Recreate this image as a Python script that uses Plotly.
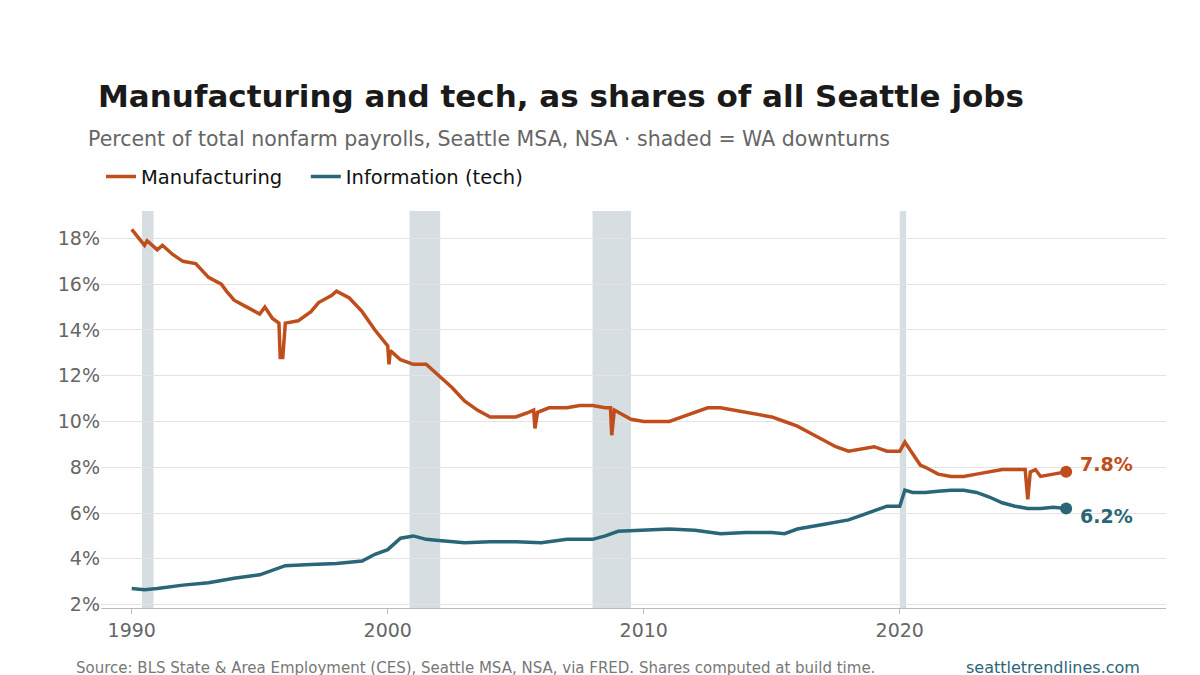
import plotly.graph_objects as go

# decimal years and % shares
mfg_t = [1990.0, 1990.3, 1990.5, 1990.6, 1991.0, 1991.2, 1991.6, 1992.0, 1992.5, 1993.0,
         1993.5, 1993.7, 1994.0, 1994.5, 1995.0, 1995.2, 1995.5, 1995.75, 1995.8, 1995.9,
         1996.0, 1996.5, 1997.0, 1997.3, 1997.8, 1998.0, 1998.5, 1999.0, 1999.5, 2000.0,
         2000.05, 2000.1, 2000.5, 2001.0, 2001.5, 2002.0, 2002.5, 2003.0, 2003.5, 2004.0,
         2004.5, 2005.0, 2005.5, 2005.7, 2005.75, 2005.85, 2006.3, 2007.0, 2007.5, 2008.0,
         2008.5, 2008.7, 2008.75, 2008.85, 2009.5, 2010.0, 2010.5, 2011.0, 2011.5, 2012.0,
         2012.5, 2013.0, 2013.5, 2014.0, 2014.5, 2015.0, 2015.5, 2016.0, 2016.5, 2017.0,
         2017.5, 2018.0, 2018.5, 2019.0, 2019.5, 2020.0, 2020.2, 2020.5, 2020.8, 2021.0,
         2021.5, 2022.0, 2022.5, 2023.0, 2023.5, 2024.0, 2024.5, 2024.9, 2025.0, 2025.1,
         2025.3, 2025.5, 2026.0, 2026.5]
mfg_v = [18.4, 18.0, 17.7, 17.9, 17.5, 17.7, 17.3, 17.0, 16.9, 16.3,
         16.0, 15.7, 15.3, 15.0, 14.7, 15.0, 14.5, 14.3, 12.8, 12.8,
         14.3, 14.4, 14.8, 15.2, 15.5, 15.7, 15.4, 14.8, 14.0, 13.3,
         12.5, 13.1, 12.7, 12.5, 12.5, 12.0, 11.5, 10.9, 10.5, 10.2,
         10.2, 10.2, 10.4, 10.5, 9.7, 10.4, 10.6, 10.6, 10.7, 10.7,
         10.6, 10.6, 9.4, 10.5, 10.1, 10.0, 10.0, 10.0, 10.2, 10.4,
         10.6, 10.6, 10.5, 10.4, 10.3, 10.2, 10.0, 9.8, 9.5, 9.2,
         8.9, 8.7, 8.8, 8.9, 8.7, 8.7, 9.1, 8.6, 8.1, 8.0,
         7.7, 7.6, 7.6, 7.7, 7.8, 7.9, 7.9, 7.9, 6.6, 7.8,
         7.9, 7.6, 7.7, 7.8]

info_t = [1990.0, 1990.5, 1991.0, 1992.0, 1993.0, 1994.0, 1995.0, 1996.0, 1997.0, 1998.0,
          1999.0, 1999.5, 2000.0, 2000.5, 2001.0, 2001.5, 2002.0, 2003.0, 2004.0, 2005.0,
          2006.0, 2007.0, 2008.0, 2008.5, 2009.0, 2010.0, 2011.0, 2012.0, 2013.0, 2014.0,
          2015.0, 2015.5, 2016.0, 2017.0, 2018.0, 2018.5, 2019.0, 2019.5, 2020.0, 2020.2,
          2020.5, 2021.0, 2021.5, 2022.0, 2022.5, 2023.0, 2023.5, 2024.0, 2024.5, 2025.0,
          2025.5, 2026.0, 2026.5]
info_v = [2.7, 2.65, 2.7, 2.85, 2.95, 3.15, 3.3, 3.7, 3.75, 3.8,
          3.9, 4.2, 4.4, 4.9, 5.0, 4.85, 4.8, 4.7, 4.75, 4.75,
          4.7, 4.85, 4.85, 5.0, 5.2, 5.25, 5.3, 5.25, 5.1, 5.15,
          5.15, 5.1, 5.3, 5.5, 5.7, 5.9, 6.1, 6.3, 6.3, 7.0,
          6.9, 6.9, 6.95, 7.0, 7.0, 6.9, 6.7, 6.45, 6.3, 6.2,
          6.2, 6.25, 6.2]

downturns = [(1990.4, 1990.85), (2000.85, 2002.05), (2008.0, 2009.5), (2020.0, 2020.25)]

MFG = "#bf4e1c"
INFO = "#2a6678"
FONT = "DejaVu Sans"

fig = go.Figure()
for x0, x1 in downturns:
    fig.add_vrect(x0=x0, x1=x1, fillcolor="#d6dee1", opacity=1, line_width=0, layer="below")

fig.add_trace(go.Scatter(x=mfg_t, y=mfg_v, mode="lines", name="Manufacturing   ",
                         line=dict(color=MFG, width=3.5)))
fig.add_trace(go.Scatter(x=info_t, y=info_v, mode="lines", name="Information (tech)",
                         line=dict(color=INFO, width=3.5)))
for t, v, c in [(mfg_t[-1], mfg_v[-1], MFG), (info_t[-1], info_v[-1], INFO)]:
    fig.add_trace(go.Scatter(x=[t], y=[v], mode="markers", showlegend=False,
                             marker=dict(color=c, size=12)))
fig.add_annotation(x=mfg_t[-1], y=mfg_v[-1], text=f"<b>{mfg_v[-1]:.1f}%</b>", showarrow=False,
                   xanchor="left", xshift=12, yshift=8, font=dict(color=MFG, size=19, family=FONT))
fig.add_annotation(x=info_t[-1], y=info_v[-1], text=f"<b>{info_v[-1]:.1f}%</b>", showarrow=False,
                   xanchor="left", xshift=12, yshift=-8, font=dict(color=INFO, size=19, family=FONT))

fig.add_annotation(xref="paper", yref="paper", x=-0.014, y=1.181, xanchor="left", yanchor="middle",
                   text="Percent of total nonfarm payrolls, Seattle MSA, NSA · shaded = WA downturns",
                   showarrow=False, font=dict(size=20.5, color="#666", family=FONT))
fig.add_annotation(xref="paper", yref="paper", x=-0.025, y=-0.151, xanchor="left", yanchor="middle",
                   text="Source: BLS State & Area Employment (CES), Seattle MSA, NSA, via FRED. Shares computed at build time.",
                   showarrow=False, font=dict(size=15, color="#777", family=FONT))
fig.add_annotation(xref="paper", yref="paper", x=0.977, y=-0.151, xanchor="right", yanchor="middle",
                   text="seattletrendlines.com", showarrow=False,
                   font=dict(size=16, color=INFO, family=FONT))

fig.update_layout(
    width=1200, height=675, plot_bgcolor="white", paper_bgcolor="white",
    font=dict(family=FONT, color="#666"),
    margin=dict(l=93, r=42, t=203, b=75, autoexpand=False),
    title=dict(text="<b>Manufacturing and tech, as shares of all Seattle jobs</b>",
               x=0.075, xanchor="left", y=0.869, yanchor="middle",
               font=dict(size=31, color="#1a1a1a", family=FONT)),
    legend=dict(orientation="h", x=0.0, y=1.086, xanchor="left", yanchor="middle",
                font=dict(size=19.5, color="#111")),
    showlegend=True,
)
fig.update_xaxes(range=[1988.8, 2030.4], tickvals=[1990, 2000, 2010, 2020], showgrid=False,
                 showline=True, linecolor="#bbb", ticks="outside", tickcolor="#bbb",
                 tickfont=dict(size=19, color="#666"), automargin=False)
fig.update_yaxes(range=[1.85, 19.2], tickvals=list(range(2, 19, 2)),
                 ticktext=[f"{v}%" for v in range(2, 19, 2)], gridcolor="#e3e3e3",
                 tickfont=dict(size=19, color="#666"), zeroline=False, automargin=False)

fig.write_html("out.html")
